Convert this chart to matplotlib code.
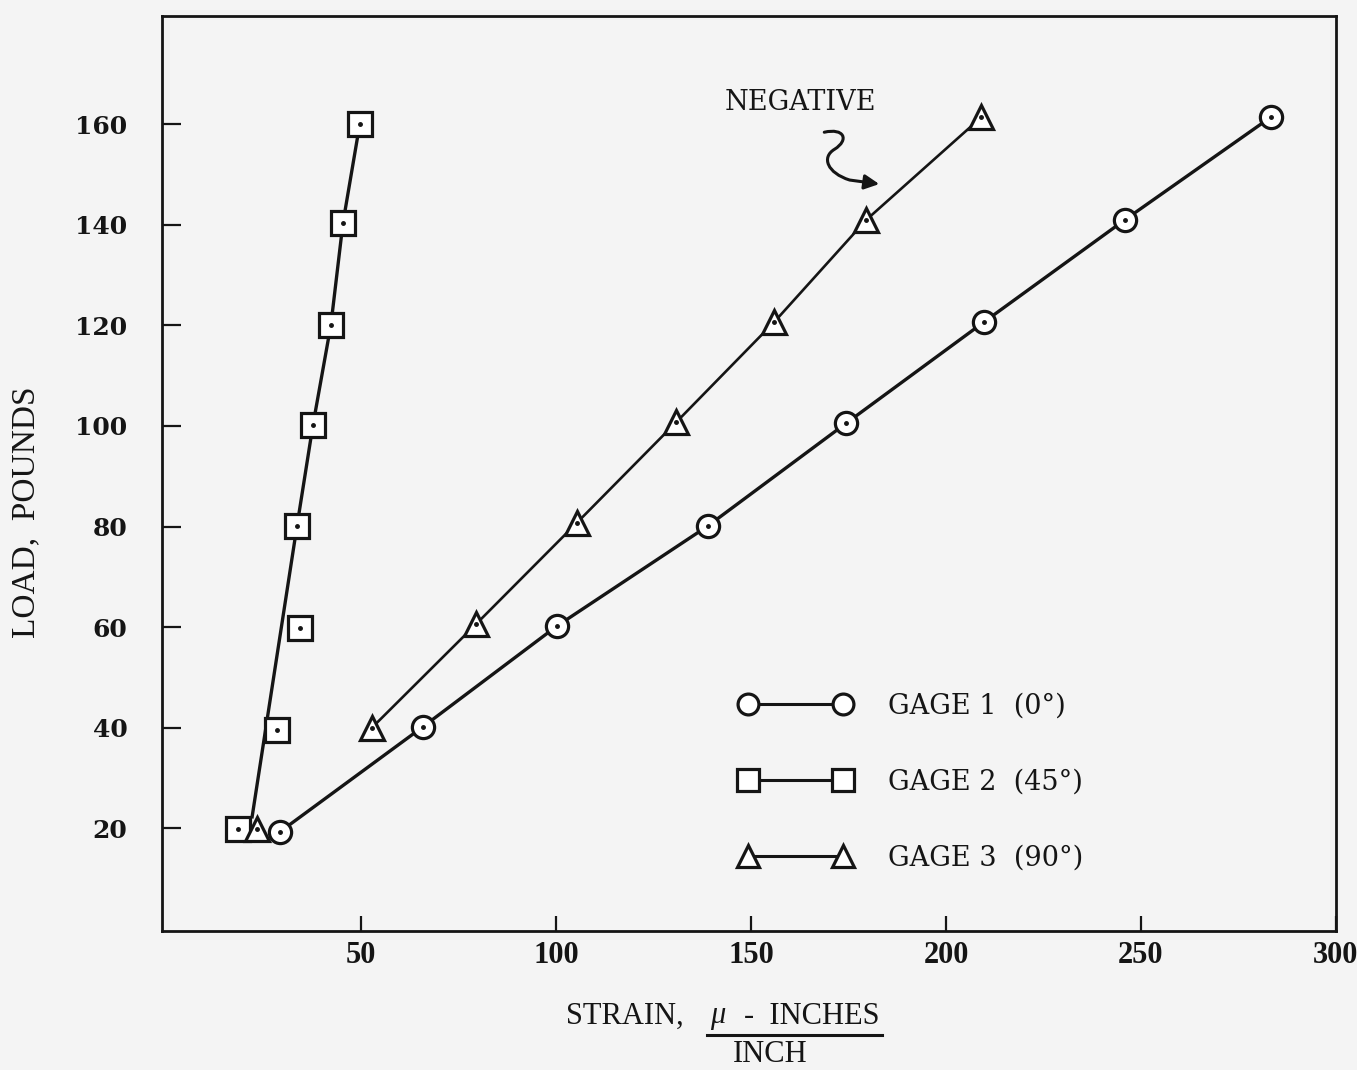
import numpy as np
import matplotlib.pyplot as plt
from matplotlib.path import Path
from matplotlib.patches import FancyArrowPatch
from matplotlib.lines import Line2D

# ── data (strain in micro-inches/inch, load in pounds) ──
gage1_strain = [29.2, 65.9, 100.2, 138.9, 174.5, 209.8, 245.9, 283.3]
gage1_load = [19.3, 40.2, 60.2, 80.1, 100.6, 120.7, 141.0, 161.4]

gage2_strain = [18.5, 28.5, 34.4, 33.6, 37.7, 42.3, 45.4, 49.7]
gage2_load = [19.9, 39.6, 59.8, 80.1, 100.2, 120.1, 140.4, 160.0]
# faired line through gage 2 points
gage2_fit_strain = [22.1, 33.6, 37.7, 42.3, 45.4, 49.7]
gage2_fit_load = [22.3, 80.1, 100.2, 120.1, 140.4, 160.0]

gage3_strain = [23.4, 52.8, 79.5, 105.3, 130.9, 156.0, 179.6, 209.1]
gage3_load = [19.9, 40.0, 60.6, 80.7, 100.8, 120.7, 141.0, 161.4]

labels = ["GAGE 1  (0°)", "GAGE 2  (45°)", "GAGE 3  (90°)"]
xticks = [50, 100, 150, 200, 250, 300]
yticks = [20, 40, 60, 80, 100, 120, 140, 160]

bg = "#f4f4f4"
ink = "#151515"

fig = plt.figure(figsize=(13.57, 10.70), dpi=100, facecolor=bg)
ax = fig.add_axes([0.1194, 0.1299, 0.8651, 0.8551], facecolor=bg)

mk = dict(color=ink, mfc="white", mec=ink, mew=2.3)

# gage 2: faired line + markers
ax.plot(gage2_fit_strain, gage2_fit_load, color=ink, lw=2.4, zorder=2)
ax.plot(gage2_strain, gage2_load, ls="none", marker="s", ms=17, zorder=3, **mk)
ax.plot(gage2_strain, gage2_load, ls="none", marker="o", ms=2.5, color=ink, zorder=4)

# gage 3: line from 40 lb up, isolated point at 20 lb
ax.plot(gage3_strain[1:], gage3_load[1:], lw=1.9, zorder=2, color=ink)
ax.plot(gage3_strain, gage3_load, ls="none", marker="^", ms=17, zorder=3, **mk)
ax.plot(gage3_strain, gage3_load, ls="none", marker="o", ms=2.5, color=ink, zorder=4)

# gage 1
ax.plot(gage1_strain, gage1_load, lw=2.4, zorder=2, color=ink)
ax.plot(gage1_strain, gage1_load, ls="none", marker="o", ms=16, zorder=3, **mk)
ax.plot(gage1_strain, gage1_load, ls="none", marker="o", ms=2.5, color=ink, zorder=4)

ax.set_xlim(-1, 300)
ax.set_ylim(-0.4, 181.5)
ax.set_xticks(xticks)
ax.set_yticks(yticks)
ax.set_xticklabels([str(v) for v in xticks], fontfamily="Liberation Serif",
                   fontweight="bold", fontsize=22)
ax.set_yticklabels([str(v) for v in yticks], fontfamily="DejaVu Serif",
                   fontweight="bold", fontsize=18)
ax.tick_params(axis="y", direction="in", length=14, width=1.6, pad=25, colors=ink)
ax.tick_params(axis="x", direction="in", length=11, width=1.6, pad=7, colors=ink)
for s in ax.spines.values():
    s.set_linewidth(2.0)
    s.set_color(ink)

# legend: marker — line — marker
handles = [
    Line2D([], [], marker="o", ms=15, lw=2.2, **mk),
    Line2D([], [], marker="s", ms=16, lw=2.2, **mk),
    Line2D([], [], marker="^", ms=16, lw=2.2, **mk),
]
leg = ax.legend(handles, labels, numpoints=2, frameon=False,
                loc="center left", bbox_to_anchor=(0.492, 0.163),
                borderpad=0, borderaxespad=0, handlelength=4.1,
                handletextpad=1.37, labelspacing=1.8,
                prop=dict(family="DejaVu Serif", size=19.5))
for t in leg.get_texts():
    t.set_color(ink)

# NEGATIVE note with squiggly arrow
ax.text(162.7, 164.4, "NEGATIVE", fontfamily="DejaVu Serif", fontsize=19.5,
        ha="center", va="center", color=ink)
verts = [(168.8, 158.4), (173.9, 159.3), (175.3, 156.9), (171.4, 155.0),
         (168.0, 153.4), (169.6, 150.3), (175.3, 148.9), (182.9, 148.1)]
codes = [Path.MOVETO, Path.CURVE4, Path.CURVE4, Path.CURVE4,
         Path.CURVE4, Path.CURVE4, Path.CURVE4, Path.LINETO]
arrow = FancyArrowPatch(path=Path(verts, codes), arrowstyle="-|>",
                        mutation_scale=22, lw=2.2, color=ink)
ax.add_patch(arrow)

# axis titles
fig.text(26 / 1357, 1 - 512 / 1070, "LOAD,  POUNDS", rotation=90,
         fontfamily="Liberation Serif", fontsize=24, ha="center", va="center",
         color=ink)
fig.text(566 / 1357, 1 - 1016 / 1070, "STRAIN,", fontfamily="Liberation Serif",
         fontsize=22, ha="left", va="center", color=ink)
fig.text(710 / 1357, 1 - 1016 / 1070, "μ", fontfamily="Liberation Serif",
         fontsize=22, style="italic", ha="left", va="center", color=ink)
fig.text(880 / 1357, 1 - 1016 / 1070, "-  INCHES", fontfamily="Liberation Serif",
         fontsize=22, ha="right", va="center", color=ink)
fig.add_artist(Line2D([707 / 1357, 882 / 1357], [1 - 1035 / 1070, 1 - 1035 / 1070],
                      transform=fig.transFigure, color=ink, lw=2.2))
fig.text(770 / 1357, 1 - 1054 / 1070, "INCH", fontfamily="Liberation Serif",
         fontsize=22, ha="center", va="center", color=ink)

fig.savefig("out.png", dpi=100, facecolor=bg)
